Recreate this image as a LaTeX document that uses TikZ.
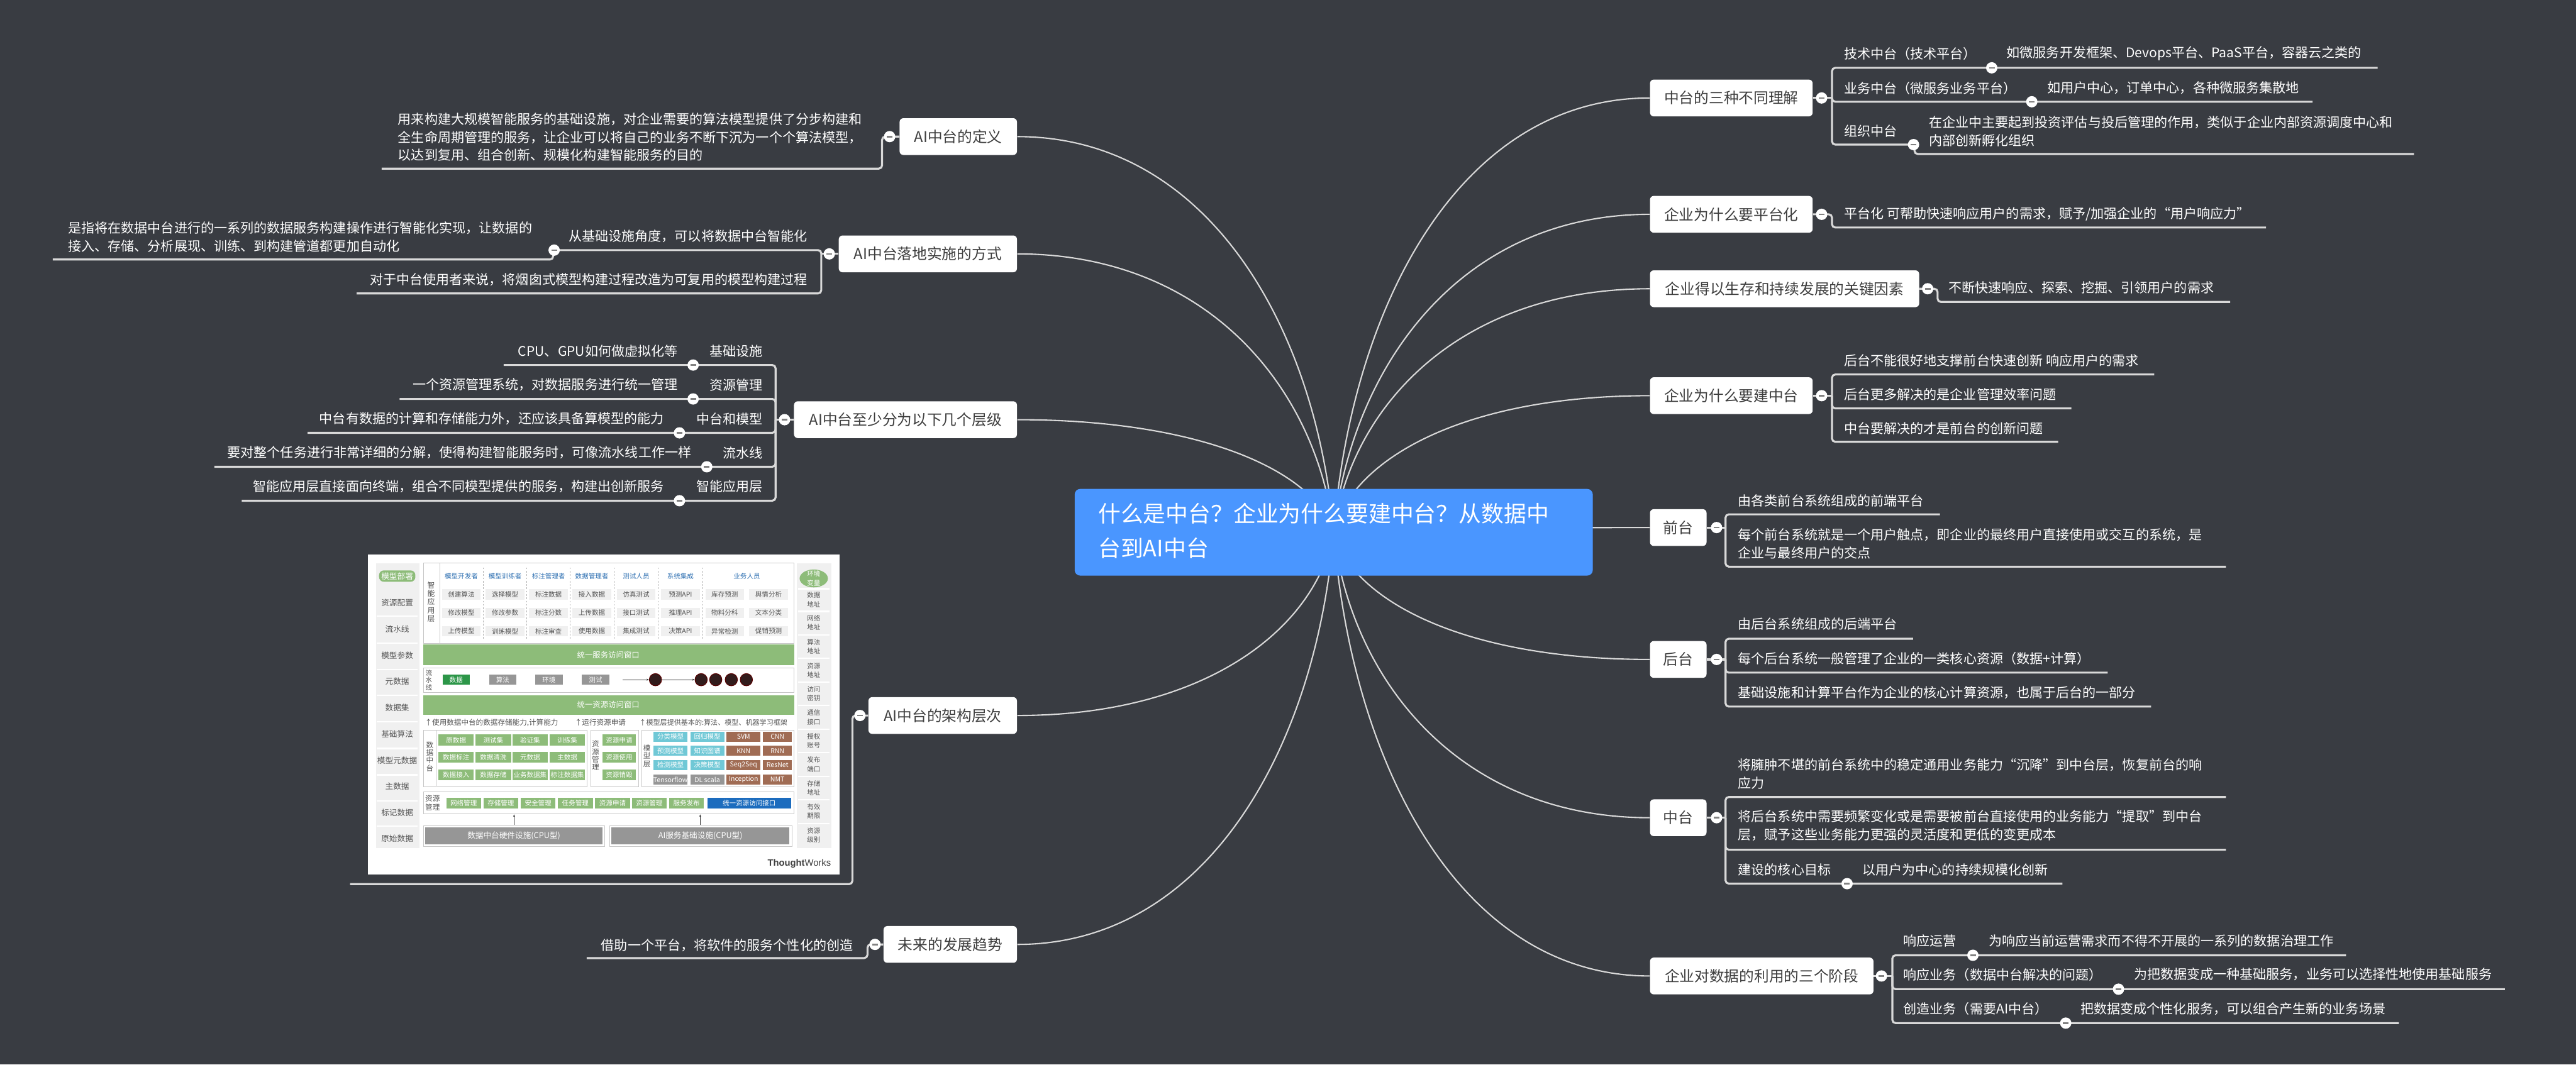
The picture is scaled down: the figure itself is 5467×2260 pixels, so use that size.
\documentclass[tikz,border=0pt]{standalone}
\usepackage{fontspec}
\setmainfont{Noto Sans CJK SC}
\newfontfamily\twfont{Liberation Sans}
\usetikzlibrary{backgrounds,arrows.meta}
\definecolor{bgc}{RGB}{57,60,66}
\definecolor{linec}{RGB}{217,217,217}
\definecolor{boxtxt}{RGB}{62,62,62}
\definecolor{rootc}{RGB}{74,150,255}
\definecolor{minusc}{RGB}{130,130,130}
\definecolor{igreen}{RGB}{141,188,121}
\definecolor{idgreen}{RGB}{44,150,72}
\definecolor{igrey}{RGB}{150,150,150}
\definecolor{icyan}{RGB}{112,200,214}
\definecolor{ibrown}{RGB}{160,108,84}
\definecolor{iblue}{RGB}{28,108,190}
\definecolor{ilight}{RGB}{240,240,240}
\definecolor{ihead}{RGB}{46,112,178}
\definecolor{itxt}{RGB}{85,85,85}
\definecolor{iball}{RGB}{50,28,28}
\tikzset{
  lvone/.style={rectangle, rounded corners=0.08cm, fill=white, text=boxtxt, font=\fontsize{9}{11}\selectfont, minimum height=0.78cm, inner sep=0pt},
  lvtwo/.style={text=white, font=\fontsize{8}{10.9}\selectfont, inner sep=0pt, align=left},
  ul/.style={draw=linec, line width=1.2pt, rounded corners=0.07cm},
  trunk/.style={draw=linec, line width=0.8pt},
  fold/.style={circle, fill=white, minimum size=0.24cm, inner sep=0pt,
    path picture={\draw[minusc, line width=1pt] ([xshift=-0.06cm]path picture bounding box.center) -- ([xshift=0.06cm]path picture bounding box.center);}},
  ipanel/.style={rectangle, anchor=north west, fill=white, draw=black!22, line width=0.3pt, inner sep=0pt},
  iband/.style={rectangle, anchor=north west, fill=igreen, inner sep=0pt},
  ibandtxt/.style={text=white, font=\fontsize{4.7}{5}\selectfont, inner sep=0pt},
  appcell/.style={rectangle, fill=ilight, text=itxt, minimum width=0.82cm, minimum height=0.22cm, inner sep=0pt, font=\fontsize{4}{5}\selectfont},
  ihd/.style={text=ihead, inner sep=0pt, font=\fontsize{4}{5}\selectfont},
  gcell/.style={rectangle, fill=igreen, text=white, inner sep=0pt, font=\fontsize{4}{5}\selectfont},
  ivl/.style={text=itxt, inner sep=0pt, align=center},
  icol/.style={text=itxt, inner sep=0pt, font=\fontsize{4.8}{5.4}\selectfont},
  icolr/.style={text=itxt, inner sep=0pt, align=center, font=\fontsize{4}{5.4}\selectfont},
  iarr/.style={draw=black!80, line width=0.3pt, -{Stealth[length=0.05cm,width=0.04cm]}},
}
\begin{document}
\begin{tikzpicture}[x=0.01cm, y=-0.01cm]
\useasboundingbox (0,0) rectangle (5467,2260);
\begin{scope}[on background layer]
\fill[bgc] (0,0) rectangle (5467,2260);
\end{scope}

% ---------- root ----------
\node[rectangle, rounded corners=0.12cm, fill=rootc, minimum width=10.99cm, minimum height=1.84cm, inner sep=0pt] (root) at (2830.5,1130) {};
\node[text=white, anchor=west, align=left, inner sep=0pt, font=\fontsize{13.6}{20.8}\selectfont] (roottxt) at (2330,1126.5) {什么是中台？企业为什么要建中台？从数据中\\台到AI中台};

% ---------- level one, right ----------
\node[lvone, anchor=west, minimum width=3.45cm] (r1) at (3501,208) {中台的三种不同理解};
\node[lvone, anchor=west, minimum width=3.45cm] (r2) at (3501,455) {企业为什么要平台化};
\node[lvone, anchor=west, minimum width=5.71cm] (r3) at (3501,613) {企业得以生存和持续发展的关键因素};
\node[lvone, anchor=west, minimum width=3.45cm] (r4) at (3501,840) {企业为什么要建中台};
\node[lvone, anchor=west, minimum width=1.20cm] (r5) at (3501,1120) {前台};
\node[lvone, anchor=west, minimum width=1.20cm] (r6) at (3501,1400) {后台};
\node[lvone, anchor=west, minimum width=1.20cm] (r7) at (3501,1736) {中台};
\node[lvone, anchor=west, minimum width=4.74cm] (r8) at (3501,2072) {企业对数据的利用的三个阶段};

% ---------- level one, left ----------
\node[lvone, anchor=east, minimum width=2.49cm] (l1) at (2159,290) {AI中台的定义};
\node[lvone, anchor=east, minimum width=3.78cm] (l2) at (2159,539) {AI中台落地实施的方式};
\node[lvone, anchor=east, minimum width=4.73cm] (l3) at (2159,891) {AI中台至少分为以下几个层级};
\node[lvone, anchor=east, minimum width=3.15cm] (l4) at (2159,1519) {AI中台的架构层次};
\node[lvone, anchor=east, minimum width=2.83cm] (l5) at (2159,2005) {未来的发展趋势};

% ---------- trunk curves ----------
\begin{scope}[on background layer]
\draw[trunk] (root.center) .. controls +(37,-479) and +(-403,0) .. (r1.west);
\draw[trunk] (root.center) .. controls +(37,-351) and +(-403,0) .. (r2.west);
\draw[trunk] (root.center) .. controls +(37,-269) and +(-403,0) .. (r3.west);
\draw[trunk] (root.center) .. controls +(37,-151) and +(-403,0) .. (r4.west);
\draw[trunk] (root.center) .. controls +(37,-5) and +(-403,0) .. (r5.west);
\draw[trunk] (root.center) .. controls +(37,140) and +(-403,0) .. (r6.west);
\draw[trunk] (root.center) .. controls +(37,315) and +(-403,0) .. (r7.west);
\draw[trunk] (root.center) .. controls +(37,490) and +(-403,0) .. (r8.west);
\draw[trunk] (root.center) .. controls +(-37,-437) and +(403,0) .. (l1.east);
\draw[trunk] (root.center) .. controls +(-37,-307) and +(403,0) .. (l2.east);
\draw[trunk] (root.center) .. controls +(-37,-124) and +(403,0) .. (l3.east);
\draw[trunk] (root.center) .. controls +(-37,202) and +(403,0) .. (l4.east);
\draw[trunk] (root.center) .. controls +(-37,455) and +(403,0) .. (l5.east);
\end{scope}

% ---------- right texts ----------
\node[lvtwo, anchor=west] (r1a) at (3913,114) {技术中台（技术平台）};
\node[lvtwo, anchor=west] (r1a1) at (4258,114) {如微服务开发框架、Devops平台、PaaS平台，容器云之类的};
\node[lvtwo, anchor=west] (r1b) at (3913,187) {业务中台（微服务业务平台）};
\node[lvtwo, anchor=west] (r1b1) at (4344,187) {如用户中心，订单中心，各种微服务集散地};
\node[lvtwo, anchor=west] (r1c) at (3913,278) {组织中台};
\node[lvtwo, anchor=west] (r1c1) at (4093,279) {在企业中主要起到投资评估与投后管理的作用，类似于企业内部资源调度中心和\\内部创新孵化组织};
\node[lvtwo, anchor=west] (r2a) at (3913,455) {平台化 可帮助快速响应用户的需求，赋予/加强企业的“用户响应力”};
\node[lvtwo, anchor=west] (r3a) at (4135,611) {不断快速响应、探索、挖掘、引领用户的需求};
\node[lvtwo, anchor=west] (r4a) at (3913,766) {后台不能很好地支撑前台快速创新 响应用户的需求};
\node[lvtwo, anchor=west] (r4b) at (3913,837) {后台更多解决的是企业管理效率问题};
\node[lvtwo, anchor=west] (r4c) at (3913,909) {中台要解决的才是前台的创新问题};
\node[lvtwo, anchor=west] (r5a) at (3688,1063) {由各类前台系统组成的前端平台};
\node[lvtwo, anchor=west] (r5b) at (3688,1154) {每个前台系统就是一个用户触点，即企业的最终用户直接使用或交互的系统，是\\企业与最终用户的交点};
\node[lvtwo, anchor=west] (r6a) at (3688,1325) {由后台系统组成的后端平台};
\node[lvtwo, anchor=west] (r6b) at (3688,1398) {每个后台系统一般管理了企业的一类核心资源（数据+计算）};
\node[lvtwo, anchor=west] (r6c) at (3688,1470) {基础设施和计算平台作为企业的核心计算资源，也属于后台的一部分};
\node[lvtwo, anchor=west] (r7a) at (3688,1643) {将臃肿不堪的前台系统中的稳定通用业务能力“沉降”到中台层，恢复前台的响\\应力};
\node[lvtwo, anchor=west] (r7b) at (3688,1753) {将后台系统中需要频繁变化或是需要被前台直接使用的业务能力“提取”到中台\\层，赋予这些业务能力更强的灵活度和更低的变更成本};
\node[lvtwo, anchor=west] (r7c) at (3688,1846) {建设的核心目标};
\node[lvtwo, anchor=west] (r7c1) at (3952,1846) {以用户为中心的持续规模化创新};
\node[lvtwo, anchor=west] (r8a) at (4039,1997) {响应运营};
\node[lvtwo, anchor=west] (r8a1) at (4220,1997) {为响应当前运营需求而不得不开展的一系列的数据治理工作};
\node[lvtwo, anchor=west] (r8b) at (4039,2069) {响应业务（数据中台解决的问题）};
\node[lvtwo, anchor=west] (r8b1) at (4528,2069) {为把数据变成一种基础服务，业务可以选择性地使用基础服务};
\node[lvtwo, anchor=west] (r8c) at (4039,2142) {创造业务（需要AI中台）};
\node[lvtwo, anchor=west] (r8c1) at (4415,2142) {把数据变成个性化服务，可以组合产生新的业务场景};

% ---------- left texts ----------
\node[lvtwo, anchor=west] (l1a) at (844,291) {用来构建大规模智能服务的基础设施，对企业需要的算法模型提供了分步构建和\\全生命周期管理的服务，让企业可以将自己的业务不断下沉为一个个算法模型，\\以达到复用、组合创新、规模化构建智能服务的目的};
\node[lvtwo, anchor=east] (l2a) at (1714,502) {从基础设施角度，可以将数据中台智能化};
\node[lvtwo, anchor=west] (l2a1) at (144,503.5) {是指将在数据中台进行的一系列的数据服务构建操作进行智能化实现，让数据的\\接入、存储、分析展现、训练、到构建管道都更加自动化};
\node[lvtwo, anchor=east] (l2b) at (1714,593) {对于中台使用者来说，将烟囱式模型构建过程改造为可复用的模型构建过程};
\node[lvtwo, anchor=east] (l3a) at (1619,746) {基础设施};
\node[lvtwo, anchor=east] (l3a1) at (1439,746) {CPU、GPU如何做虚拟化等};
\node[lvtwo, anchor=east] (l3b) at (1619,817) {资源管理};
\node[lvtwo, anchor=east] (l3b1) at (1439,817) {一个资源管理系统，对数据服务进行统一管理};
\node[lvtwo, anchor=east] (l3c) at (1619,889) {中台和模型};
\node[lvtwo, anchor=east] (l3c1) at (1410,889) {中台有数据的计算和存储能力外，还应该具备算模型的能力};
\node[lvtwo, anchor=east] (l3d) at (1619,961) {流水线};
\node[lvtwo, anchor=east] (l3d1) at (1468,961) {要对整个任务进行非常详细的分解，使得构建智能服务时，可像流水线工作一样};
\node[lvtwo, anchor=east] (l3e) at (1619,1033) {智能应用层};
\node[lvtwo, anchor=east] (l3e1) at (1410,1033) {智能应用层直接面向终端，组合不同模型提供的服务，构建出创新服务};
\node[lvtwo, anchor=east] (l5a) at (1811,2007) {借助一个平台，将软件的服务个性化的创造};

% ---------- underlines right ----------
\draw[ul] (r1.east) -- (3888,208);
\draw[ul] (3888,208) |- (5046,144);
\draw[ul] (3888,208) |- (4908,216);
\draw[ul] (3888,208) |- (4061,307);
\draw[ul] (4063,307) |- (5123,327);
\draw[ul] (r2.east) -- (3888,455) |- (4809,483);
\draw[ul] (r3.east) -- (4112,613) |- (4733,641);
\draw[ul] (r4.east) -- (3888,840);
\draw[ul] (3888,840) |- (4572,795);
\draw[ul] (3888,840) |- (4396,867);
\draw[ul] (3888,840) |- (4368,938);
\draw[ul] (r5.east) -- (3662,1120);
\draw[ul] (3662,1120) |- (4117,1092);
\draw[ul] (3662,1120) |- (4724,1203);
\draw[ul] (r6.east) -- (3662,1400);
\draw[ul] (3662,1400) |- (4060,1356);
\draw[ul] (3662,1400) |- (4473,1428);
\draw[ul] (3662,1400) |- (4565,1500);
\draw[ul] (r7.east) -- (3662,1736);
\draw[ul] (3662,1736) |- (4724,1692);
\draw[ul] (3662,1736) |- (4724,1804);
\draw[ul] (3662,1736) |- (4377,1876);
\draw[ul] (r8.east) -- (4016,2072);
\draw[ul] (4016,2072) |- (4979,2028);
\draw[ul] (4016,2072) |- (5316,2100);
\draw[ul] (4016,2072) |- (5091,2172);

% ---------- underlines left ----------
\draw[ul] (l1.west) -- (1872,290) |- (810,358);
\draw[ul] (l2.west) -- (1743,539);
\draw[ul] (1743,539) |- (1176,531);
\draw[ul] (1174,531) |- (112,551);
\draw[ul] (1743,539) |- (757,623);
\draw[ul] (l3.west) -- (1646,891);
\draw[ul] (1646,891) |- (1069,775);
\draw[ul] (1646,891) |- (848,847);
\draw[ul] (1646,891) |- (653,919);
\draw[ul] (1646,891) |- (455,991);
\draw[ul] (1646,891) |- (513,1063);
\draw[ul] (l4.west) -- (1809,1519) |- (743,1877);
\draw[ul] (l5.west) -- (1841,2005) |- (1245,2034);

% ---------- fold markers ----------
\node[fold] (r1f) at (3866,208) {};
\node[fold] (r2f) at (3866,455) {};
\node[fold] (r3f) at (4091,613) {};
\node[fold] (r4f) at (3866,840) {};
\node[fold] (r5f) at (3643,1120) {};
\node[fold] (r6f) at (3643,1400) {};
\node[fold] (r7f) at (3643,1736) {};
\node[fold] (r8f) at (3993,2072) {};
\node[fold] (l1f) at (1888,290) {};
\node[fold] (l2f) at (1760,539) {};
\node[fold] (l3f) at (1665,891) {};
\node[fold] (l4f) at (1825,1519) {};
\node[fold] (l5f) at (1857,2005) {};
\node[fold] (r1af) at (4227,144) {};
\node[fold] (r1bf) at (4312,216) {};
\node[fold] (r1cf) at (4061,307) {};
\node[fold] (r7cf) at (3920,1876) {};
\node[fold] (r8af) at (4187,2028) {};
\node[fold] (r8bf) at (4496,2100) {};
\node[fold] (r8cf) at (4384,2172) {};
\node[fold] (l2af) at (1176,531) {};
\node[fold] (l3af) at (1471,775) {};
\node[fold] (l3bf) at (1471,847) {};
\node[fold] (l3cf) at (1442,919) {};
\node[fold] (l3df) at (1500,991) {};
\node[fold] (l3ef) at (1442,1063) {};

% ---------- embedded architecture picture ----------
\node[rectangle, anchor=north west, fill=white, minimum width=10cm, minimum height=6.78cm, inner sep=0pt] (pic) at (780,1177) {};
\node[rectangle, anchor=north west, fill=ilight, minimum width=0.92cm, minimum height=6.05cm, inner sep=0pt] (picl) at (797,1195) {};
\node[rectangle, anchor=north west, fill=ilight, minimum width=0.73cm, minimum height=6.05cm, inner sep=0pt] (picr) at (1691,1195) {};
\foreach \y in {1308,1365,1421,1476,1532,1589,1645,1700,1754} \draw[white, line width=0.8pt] (800,\y) -- (886,\y);
\foreach \y in {1250,1298,1348,1398,1448,1498,1548,1598,1648,1698,1748} \draw[white, line width=0.8pt] (1694,\y) -- (1761,\y);
\node[rectangle, rounded corners=0.1cm, fill=igreen, text=white, minimum width=0.77cm, minimum height=0.24cm, inner sep=0pt, font=\fontsize{4.8}{5.4}\selectfont] (pdep) at (843,1223) {模型部署};
\foreach \qa/\y [count=\i] in {资源配置/1280, 流水线/1335, 模型参数/1391, 元数据/1446, 数据集/1502, 基础算法/1558, 模型元数据/1615, 主数据/1669, 标记数据/1725, 原始数据/1780}
  \node[icol] (pcl\i) at (843,\y) {\qa};
\fill[igreen] (1727,1228) ellipse [x radius=0.3cm, y radius=0.19cm];
\node[icolr, text=white] (penv) at (1727,1228) {环境\\变量};
\foreach \qa/\qb/\y [count=\i] in {数据/地址/1273, 网络/地址/1322, 算法/地址/1373, 资源/地址/1423, 访问/密钥/1473, 通信/接口/1523, 授权/账号/1573, 发布/端口/1623, 存储/地址/1673, 有效/期限/1722, 资源/级别/1773}
  \node[icolr] (pcr\i) at (1727,\y) {\qa\\\qb};

% smart application layer
\node[ipanel, minimum width=7.86cm, minimum height=1.70cm] (papp) at (898,1195) {};
\draw[black!22, line width=0.3pt] (933,1195) -- (933,1365);
\node[ivl, font=\fontsize{4.5}{5.1}\selectfont] (pappl) at (915,1278) {智\\能\\应\\用\\层};
\foreach \x/\qa [count=\i] in {979/模型开发者, 1072/模型训练者, 1164/标注管理者, 1256/数据管理者, 1350/测试人员, 1444/系统集成, 1585/业务人员}
  \node[ihd] (aph\i) at (\x,1223) {\qa};
\foreach \x in {1026,1118,1210,1303,1397,1491}
  \draw[black!30, line width=0.3pt, dash pattern=on 1pt off 1pt] (\x,1205) -- (\x,1358);
\foreach \x/\qa/\qb/\qc [count=\i] in {979/创建算法/修改模型/上传模型, 1072/选择模型/修改参数/训练模型, 1164/标注数据/标注分数/标注审查, 1256/接入数据/上传数据/使用数据, 1350/仿真测试/接口测试/集成测试, 1444/预测API/推理API/决策API, 1538/库存预测/物料分科/异常检测, 1631/舆情分析/文本分类/促销预测}{
  \node[appcell] (apa\i) at (\x,1262) {\qa};
  \node[appcell] (apb\i) at (\x,1301) {\qb};
  \node[appcell] (apc\i) at (\x,1340) {\qc};
}
\node[iband, minimum width=7.86cm, minimum height=0.44cm] (band1) at (898,1368) {};
\node[ibandtxt] (band1t) at (1291,1390) {统一服务访问窗口};

% pipeline
\node[ipanel, minimum width=7.86cm, minimum height=0.52cm] (ppipe) at (898,1418) {};
\node[ivl, font=\fontsize{4}{4.3}\selectfont] (ppipel) at (910,1444) {流\\水\\线};
\node[rectangle, fill=idgreen, text=white, minimum width=0.58cm, minimum height=0.22cm, inner sep=0pt, font=\fontsize{4}{5}\selectfont] (pp1) at (968,1443) {数据};
\node[rectangle, fill=igrey, text=white, minimum width=0.58cm, minimum height=0.22cm, inner sep=0pt, font=\fontsize{4}{5}\selectfont] (pp2) at (1067,1443) {算法};
\node[rectangle, fill=igrey, text=white, minimum width=0.58cm, minimum height=0.22cm, inner sep=0pt, font=\fontsize{4}{5}\selectfont] (pp3) at (1165,1443) {环境};
\node[rectangle, fill=igrey, text=white, minimum width=0.58cm, minimum height=0.22cm, inner sep=0pt, font=\fontsize{4}{5}\selectfont] (pp4) at (1264,1443) {测试};
\foreach \x [count=\i] in {1391,1488,1519,1552,1584}
  \node[circle, fill=iball, draw=red!35!black, line width=0.4pt, minimum size=0.26cm, inner sep=0pt] (pb\i) at (\x,1443) {};
\draw[iarr] (1321,1443) -- (pb1.west);
\draw[iarr] (pb1.east) -- (pb2.west);
\node[iband, minimum width=7.86cm, minimum height=0.42cm] (band2) at (898,1475) {};
\node[ibandtxt] (band2t) at (1291,1496) {统一资源访问窗口};
\node[anchor=west, text=itxt, inner sep=0pt, font=\fontsize{4.4}{5}\selectfont] (pt1) at (901,1534) {↑使用数据中台的数据存储能力,计算能力};
\node[anchor=west, text=itxt, inner sep=0pt, font=\fontsize{4.4}{5}\selectfont] (pt2) at (1219,1534) {↑运行资源申请};
\node[anchor=west, text=itxt, inner sep=0pt, font=\fontsize{4.2}{5}\selectfont] (pt3) at (1356,1534) {↑模型层提供基本的:算法、模型、机器学习框架};

% data middle platform
\node[ipanel, minimum width=3.47cm, minimum height=1.20cm] (pdata) at (898,1549) {};
\draw[black!22, line width=0.3pt] (926,1549) -- (926,1669);
\node[ivl, font=\fontsize{4.4}{4.7}\selectfont] (pdatal) at (912,1606) {数\\据\\中\\台};
\foreach \y/\qa/\qb/\qc/\qd [count=\i] in {1571/原数据/测试集/验证集/训练集, 1608/数据标注/数据清洗/元数据/主数据, 1645/数据接入/数据存储/业务数据集/标注数据集}{
  \node[gcell, minimum width=0.75cm, minimum height=0.23cm] (dca\i) at (968,\y) {\qa};
  \node[gcell, minimum width=0.75cm, minimum height=0.23cm] (dcb\i) at (1047,\y) {\qb};
  \node[gcell, minimum width=0.75cm, minimum height=0.23cm] (dcc\i) at (1125,\y) {\qc};
  \node[gcell, minimum width=0.75cm, minimum height=0.23cm] (dcd\i) at (1204,\y) {\qd};
}
\node[ipanel, minimum width=1.01cm, minimum height=1.20cm] (pres) at (1253,1549) {};
\node[ivl, font=\fontsize{4.4}{4.7}\selectfont] (presl) at (1264,1604) {资\\源\\管\\理};
\foreach \y/\qa [count=\i] in {1571/资源申请, 1608/资源使用, 1645/资源销毁}
  \node[gcell, minimum width=0.72cm, minimum height=0.23cm] (rsc\i) at (1314,\y) {\qa};
\node[ipanel, minimum width=3.23cm, minimum height=1.20cm] (pmod) at (1361,1549) {};
\node[ivl, font=\fontsize{4.4}{4.7}\selectfont] (pmodl) at (1373,1605) {模\\型\\层};
\foreach \y/\qa/\qb/\qc/\qd/\ca [count=\i] in {1564/分类模型/回归模型/SVM/CNN/icyan, 1594/预测模型/知识图谱/KNN/RNN/icyan, 1624/检测模型/决策模型/Seq2Seq/ResNet/icyan, 1655/Tensorflow/DL scala/Inception/NMT/igrey}{
  \node[gcell, fill=\ca, minimum width=0.72cm, minimum height=0.21cm] (mca\i) at (1423,\y) {\qa};
  \node[gcell, fill=\ca, minimum width=0.72cm, minimum height=0.21cm] (mcb\i) at (1501,\y) {\qb};
  \node[gcell, fill=ibrown, minimum width=0.72cm, minimum height=0.21cm] (mcc\i) at (1578,\y) {\qc};
  \node[gcell, fill=ibrown, minimum width=0.61cm, minimum height=0.21cm] (mcd\i) at (1650,\y) {\qd};
}

% resource management row
\node[ipanel, minimum width=7.86cm, minimum height=0.46cm] (pres2) at (898,1681) {};
\node[ivl, font=\fontsize{4.4}{5.4}\selectfont] (pres2l) at (918,1705) {资源\\管理};
\foreach \x/\qa [count=\i] in {984/网络管理, 1063/存储管理, 1142/安全管理, 1221/任务管理, 1300/资源申请, 1378/资源管理, 1457/服务发布}
  \node[gcell, minimum width=0.74cm, minimum height=0.22cm] (rb\i) at (\x,1705) {\qa};
\node[gcell, fill=iblue, minimum width=1.77cm, minimum height=0.22cm] (rbu) at (1590,1705) {统一资源访问接口};

% infrastructure
\node[ipanel, minimum width=3.85cm, minimum height=0.45cm] (phw1) at (898,1752) {};
\node[rectangle, fill=igrey, text=white, minimum width=3.75cm, minimum height=0.37cm, inner sep=0pt, font=\fontsize{4.8}{5}\selectfont] (phw1i) at (1090.5,1774.5) {数据中台硬件设施(CPU型)};
\node[ipanel, minimum width=3.87cm, minimum height=0.45cm] (phw2) at (1293,1752) {};
\node[rectangle, fill=igrey, text=white, minimum width=3.77cm, minimum height=0.37cm, inner sep=0pt, font=\fontsize{4.8}{5}\selectfont] (phw2i) at (1486.5,1774.5) {AI服务基础设施(CPU型)};
\draw[iarr] (1091,1751) -- (1091,1729);
\draw[iarr] (1486,1751) -- (1486,1729);
\node[anchor=east, text=black!75, inner sep=0pt, font=\twfont\fontsize{5.6}{6}\selectfont] (tw) at (1764,1834) {\textbf{Thought}Works};
\end{tikzpicture}
\end{document}
